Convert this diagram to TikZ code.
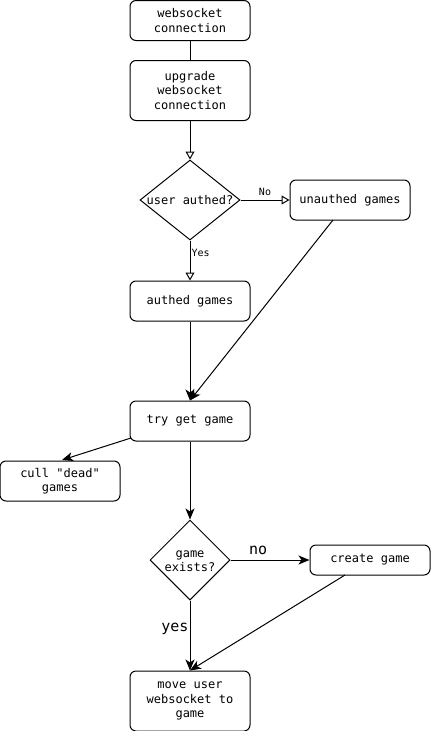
\documentclass[tikz,border=0pt]{standalone}
\usepackage{fontspec}
\setmonofont{DejaVu Sans Mono}
\usetikzlibrary{arrows.meta,shapes.geometric}
\begin{document}
\begin{tikzpicture}[x=1pt,y=-1pt,
  box/.style={draw,line width=1pt,rounded corners=6pt,minimum width=120pt,align=center,font=\ttfamily\fontsize{12}{14.5}\selectfont,inner sep=0pt},
  line/.style={line width=1pt},
  opa/.style={line width=1pt,-{Triangle[open,length=8pt,width=9pt]}},
  cla/.style={line width=1pt,-{Stealth[length=11pt,width=9pt,inset=3pt]}},
  small/.style={font=\ttfamily\fontsize{10}{12}\selectfont,inner sep=0pt},
  big/.style={font=\ttfamily\fontsize{15}{18}\selectfont,inner sep=0pt}]
\useasboundingbox (0,0) rectangle (431,731);
\node[box,minimum height=40pt] (ws) at (190,20.5) {websocket\\connection};
\node[box,minimum height=60pt] (up) at (190,90.5) {upgrade\\websocket\\connection};
\node[draw,line width=1pt,minimum width=100pt,minimum height=80pt,inner sep=0pt,shape=diamond,aspect=1.25] (ua) at (190,200) {};
\node[font=\ttfamily\fontsize{12}{14.5}\selectfont] (uat) at (190,200) {user authed?};
\node[box,minimum height=40pt] (un) at (350,200) {unauthed games};
\node[box,minimum height=40pt] (au) at (190,301) {authed games};
\node[box,minimum height=40pt] (tg) at (190,421) {try get game};
\node[box,minimum height=40pt] (cu) at (60,481) {cull "dead"\\games};
\node[draw,line width=1pt,shape=diamond,aspect=1,minimum width=80pt,minimum height=80pt,inner sep=0pt] (ge) at (190,560) {};
\node[font=\ttfamily\fontsize{12}{14.5}\selectfont,align=center] (get) at (190,561) {game\\exists?};
\node[box,minimum height=30pt] (cg) at (370,560) {create game};
\node[box,minimum height=60pt] (mv) at (190,701) {move user\\websocket to\\game};
\coordinate (unb) at (333,220);
\coordinate (tgl) at (131,438);
\coordinate (cut) at (62,460);
\coordinate (cgb) at (345,575);
\draw[line] (ws) -- (up);
\draw[opa] (up) -- (ua.north);
\draw[opa] (ua.east) -- node[small,above=4pt,pos=0.5]{No} (ua.east -| un.west);
\draw[opa] (ua.south) -- node[small,right=1pt,pos=0.3]{Yes} (au.north);
\draw[cla] (au.south) -- (tg.north);
\draw[cla] (unb) -- (tg.north);
\draw[cla] (tgl) -- (cut);
\draw[cla] (tg.south) -- (ge.north);
\draw[cla] (ge.east) -- node[big,above=5pt,pos=0.35]{no} (ge.east -| cg.west);
\draw[cla] (ge.south) -- node[big,left=1pt,pos=0.4]{yes} (mv.north);
\draw[cla] (cgb) -- (mv.north);
\end{tikzpicture}
\end{document}
